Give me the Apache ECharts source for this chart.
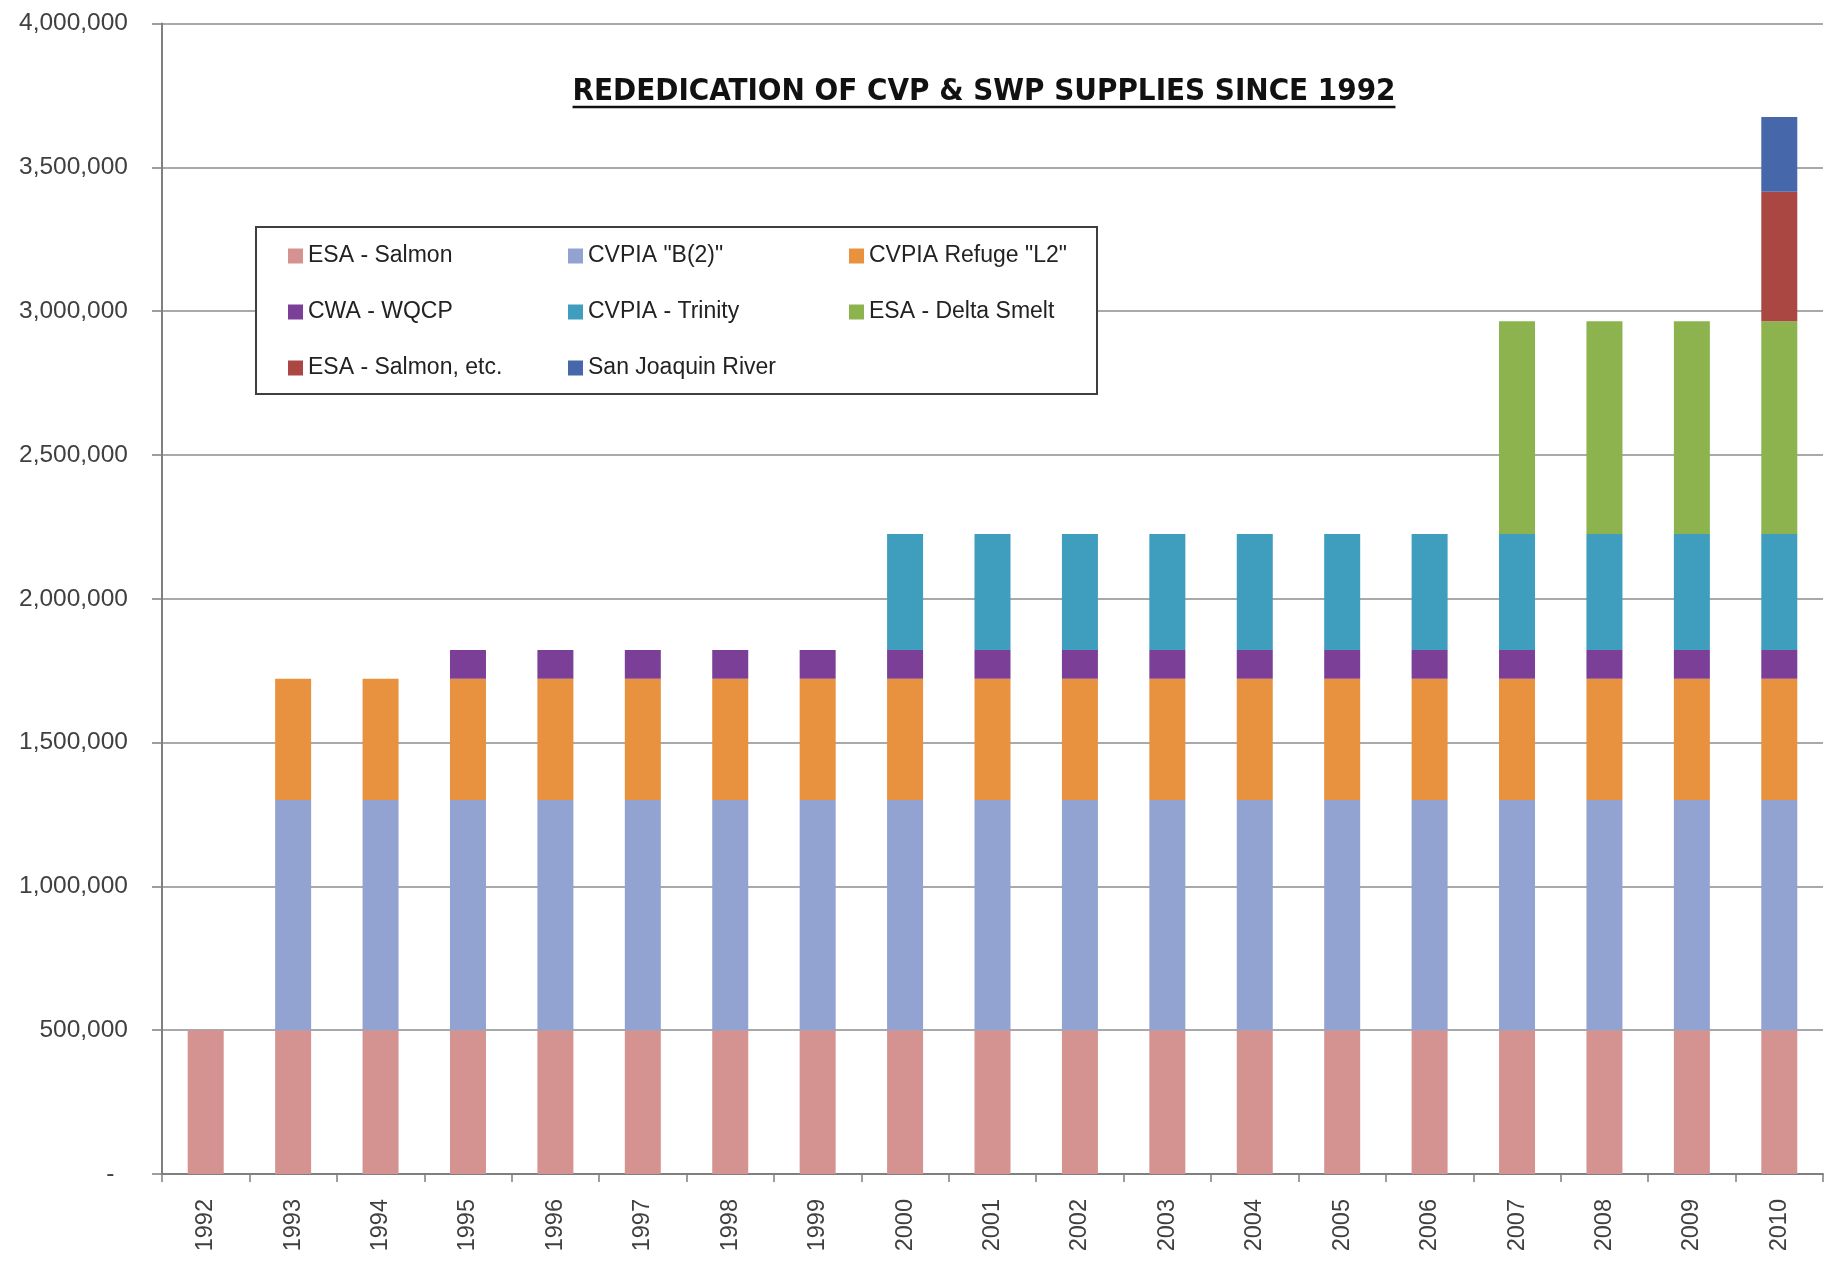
<!DOCTYPE html>
<html>
<head>
<meta charset="utf-8">
<title>Rededication of CVP & SWP Supplies</title>
<script src="https://cdn.jsdelivr.net/npm/echarts@6/dist/echarts.min.js"></script>
<style>
  html, body { margin: 0; padding: 0; background: #fff; }
  #main { width: 1843px; height: 1261px; }
</style>
</head>
<body>
<div id="main"></div>
<script>
// years on the x axis
var years = ['1992', '1993', '1994', '1995', '1996', '1997', '1998', '1999', '2000',
  '2001', '2002', '2003', '2004', '2005', '2006', '2007', '2008', '2009', '2010'];

// acre-feet per program
var esaSalmon = [500000, 500000, 500000, 500000, 500000, 500000, 500000, 500000, 500000, 500000,
  500000, 500000, 500000, 500000, 500000, 500000, 500000, 500000, 500000];
var cvpiaB2 = [null, 800000, 800000, 800000, 800000, 800000, 800000, 800000, 800000, 800000,
  800000, 800000, 800000, 800000, 800000, 800000, 800000, 800000, 800000];
var refugeL2 = [null, 422000, 422000, 422000, 422000, 422000, 422000, 422000, 422000, 422000,
  422000, 422000, 422000, 422000, 422000, 422000, 422000, 422000, 422000];
var cwaWqcp = [null, null, null, 100000, 100000, 100000, 100000, 100000, 100000, 100000,
  100000, 100000, 100000, 100000, 100000, 100000, 100000, 100000, 100000];
var trinity = [null, null, null, null, null, null, null, null, 403000, 403000,
  403000, 403000, 403000, 403000, 403000, 403000, 403000, 403000, 403000];
var deltaSmelt = [null, null, null, null, null, null, null, null, null, null,
  null, null, null, null, null, 740000, 740000, 740000, 740000];
var salmonEtc = [null, null, null, null, null, null, null, null, null, null,
  null, null, null, null, null, null, null, null, 450000];
var sanJoaquin = [null, null, null, null, null, null, null, null, null, null,
  null, null, null, null, null, null, null, null, 260000];

var seriesNames = ['ESA - Salmon', 'CVPIA "B(2)"', 'CVPIA Refuge "L2"', 'CWA - WQCP',
  'CVPIA - Trinity', 'ESA - Delta Smelt', 'ESA - Salmon, etc.', 'San Joaquin River'];
var seriesData = [esaSalmon, cvpiaB2, refugeL2, cwaWqcp, trinity, deltaSmelt, salmonEtc, sanJoaquin];
var colors = ['#d49391', '#93a3d1', '#e8913e', '#7b3f97', '#3f9dbe', '#8cb34e', '#aa4742', '#4767ab'];

var titleText = 'REDEDICATION OF CVP & SWP SUPPLIES SINCE 1992';
var titleFont = "bold 31px 'Liberation Sans Narrow', 'DejaVu Sans Condensed', 'Liberation Sans', sans-serif";

// measure title so the underline fits it
var cv = document.createElement('canvas').getContext('2d');
cv.font = titleFont;
var titleW = cv.measureText(titleText).width;
var titleX = 984;

var chartDom = document.getElementById('main');
var myChart = echarts.init(chartDom);
var option;

var fontFam = "'Liberation Sans', Arial, sans-serif";

function legendCol(names, left) {
  return {
    orient: 'vertical',
    left: left,
    top: 244,
    padding: 0,
    itemWidth: 15,
    itemHeight: 15,
    itemGap: 32,
    icon: 'rect',
    z: 6,
    data: names,
    textStyle: {
      fontFamily: fontFam,
      fontSize: 23,
      color: '#222',
      lineHeight: 24,
      padding: [0, 0, 0, 0]
    }
  };
}

option = {
  animation: false,
  backgroundColor: '#fff',
  color: colors,
  grid: { left: 162, right: 20, top: 23.5, bottom: 87, containLabel: false },
  legend: [
    legendCol([seriesNames[0], seriesNames[3], seriesNames[6]], 288),
    legendCol([seriesNames[1], seriesNames[4], seriesNames[7]], 568),
    legendCol([seriesNames[2], seriesNames[5]], 849)
  ],
  graphic: [
    {
      type: 'rect',
      z: 5,
      shape: { x: 256, y: 227, width: 841, height: 167 },
      style: { fill: '#fff', stroke: '#3f3f3f', lineWidth: 2 }
    },
    {
      type: 'text',
      z: 5,
      x: titleX,
      y: 92,
      style: {
        text: titleText,
        font: titleFont,
        fill: '#111',
        align: 'center',
        verticalAlign: 'middle'
      }
    },
    {
      type: 'line',
      z: 5,
      shape: { x1: titleX - titleW / 2, y1: 107, x2: titleX + titleW / 2, y2: 107 },
      style: { stroke: '#111', lineWidth: 2.5 }
    }
  ],
  xAxis: {
    type: 'category',
    data: years,
    axisLine: { lineStyle: { color: '#7f7f7f', width: 2 } },
    axisTick: { show: true, length: 8, lineStyle: { color: '#7f7f7f', width: 1.5 } },
    axisLabel: { rotate: 90, margin: 25, interval: 0, fontFamily: fontFam, fontSize: 23.5, color: '#404040' }
  },
  yAxis: {
    type: 'value',
    min: 0,
    max: 4000000,
    interval: 500000,
    axisLine: { show: true, lineStyle: { color: '#7f7f7f', width: 2 } },
    axisTick: { show: true, length: 10, lineStyle: { color: '#7f7f7f', width: 1.5 } },
    splitLine: { lineStyle: { color: '#8c8c8c', width: 1.5 } },
    axisLabel: {
      margin: 34,
      fontFamily: fontFam,
      fontSize: 24.5,
      color: '#404040',
      formatter: function (v) {
        return v === 0 ? '-  ' : v.toLocaleString('en-US');
      }
    }
  },
  series: seriesNames.map(function (name, i) {
    return {
      name: name,
      type: 'bar',
      stack: 'total',
      barWidth: 36,
      data: seriesData[i]
    };
  })
};

option && myChart.setOption(option);
</script>
</body>
</html>
